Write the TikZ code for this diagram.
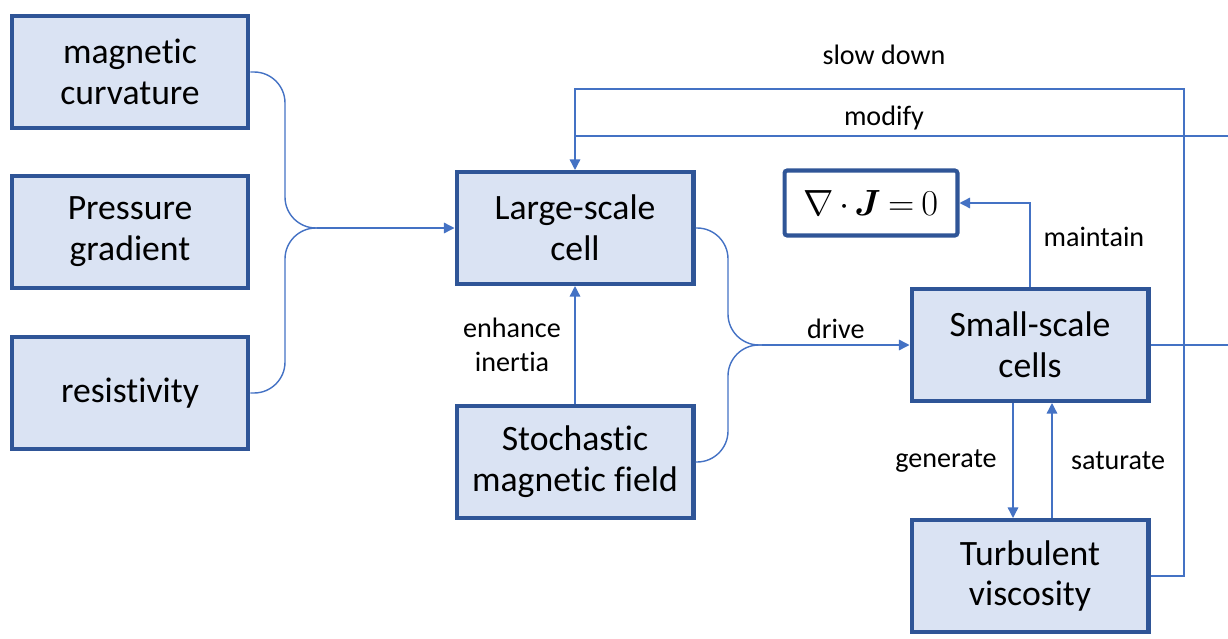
\documentclass[tikz,border=0pt]{standalone}
\usepackage{amsmath, amssymb}
\usepackage{fontspec}
\setmainfont{Carlito}[Ligatures=NoCommon]
\usepackage{tikz}
\usetikzlibrary{arrows.meta, calc}
\definecolor{cellFill}{HTML}{DAE3F3}
\definecolor{cellEdge}{HTML}{2F5597}
\definecolor{wireBlue}{HTML}{4472C4}
\tikzset{
	% boxes of the feedback chart
	cell/.style={draw=cellEdge, line width=2.3pt, fill=cellFill, minimum width=4.74cm,
		minimum height=2.24cm, align=center, inner sep=2pt,
		font=\fontsize{20.3}{23.2}\selectfont},
	eqbox/.style={draw=cellEdge, line width=2.3pt, fill=white, rounded corners=1.5pt,
		minimum width=3.46cm, minimum height=1.3cm, font=\fontsize{20}{24}\selectfont},
	% connectors and their labels
	wire/.style={draw=wireBlue, line width=0.8pt},
	arrow/.style={wire, -{Triangle[length=6pt, width=6pt]}},
	tag/.style={align=center, font=\fontsize{16}{19}\selectfont}
}
\begin{document}
\begin{tikzpicture}[x=0.02cm, y=-0.02cm]
	\clip (0,0) rectangle (1228,639);
	% boxes
	\node[cell] (magcurv) at (130,72) {magnetic\\curvature};
	\node[cell] (pressgrad) at (130,232) {Pressure\\gradient};
	\node[cell] (resist) at (130,393) {resistivity};
	\node[cell] (large) at (575,228) {Large-scale\\cell};
	\node[cell] (stoch) at (575,462) {Stochastic\\magnetic field};
	\node[eqbox] (divj) at (871,203) {$\medmuskip=2.5mu \thickmuskip=3.5mu \nabla\cdot\boldsymbol{J}=0$};
	\node[cell] (small) at (1030,345) {Small-scale\\cells};
	\node[cell] (turb) at (1030,576) {Turbulent\\viscosity};
	% junction points of the two braces
	\coordinate (b1) at (285,228);
	\coordinate (j1) at (317,228);
	\coordinate (b2) at (728,345);
	\coordinate (j2) at (762,345);
	\coordinate (sd) at (1184,89);
	\coordinate (mod) at (1240,136);
	% left brace
	\draw[wire, rounded corners=0.62cm] (magcurv.east) -| (b1) -- (j1);
	\draw[wire, rounded corners=0.62cm] (resist.east) -| (b1) -- (j1);
	\draw[arrow] (j1) -- (large.west);
	% middle brace
	\draw[wire, rounded corners=0.62cm] (large.east) -| (b2) -- (j2);
	\draw[wire, rounded corners=0.62cm] (stoch.east) -| (b2) -- (j2);
	\draw[arrow] (j2) -- node[tag, above] (drive) {drive} (small.west);
	% other links
	\draw[arrow] (stoch.north) -- (large.south);
	\node[tag] (enhance) at (512,345) {enhance\\inertia};
	\draw[arrow] (small.north) |- node[tag, pos=0.3, right=4pt] (maintain) {maintain} (divj.east);
	\draw[arrow] ([xshift=-0.34cm]small.south) -- ([xshift=-0.34cm]turb.north);
	\draw[arrow] ([xshift=0.44cm]turb.north) -- ([xshift=0.44cm]small.south);
	\node[tag] (generate) at (946,461) {generate};
	\node[tag] (saturate) at (1118,461) {saturate};
	\draw[arrow] (turb.east) -| (sd) -| (large.north);
	\draw[wire] (small.east) -| (mod) -- (large.north |- mod);
	\node[tag] (slowdown) at (884,55) {slow down};
	\node[tag] (modify) at (884,118) {modify};
\end{tikzpicture}
\end{document}
